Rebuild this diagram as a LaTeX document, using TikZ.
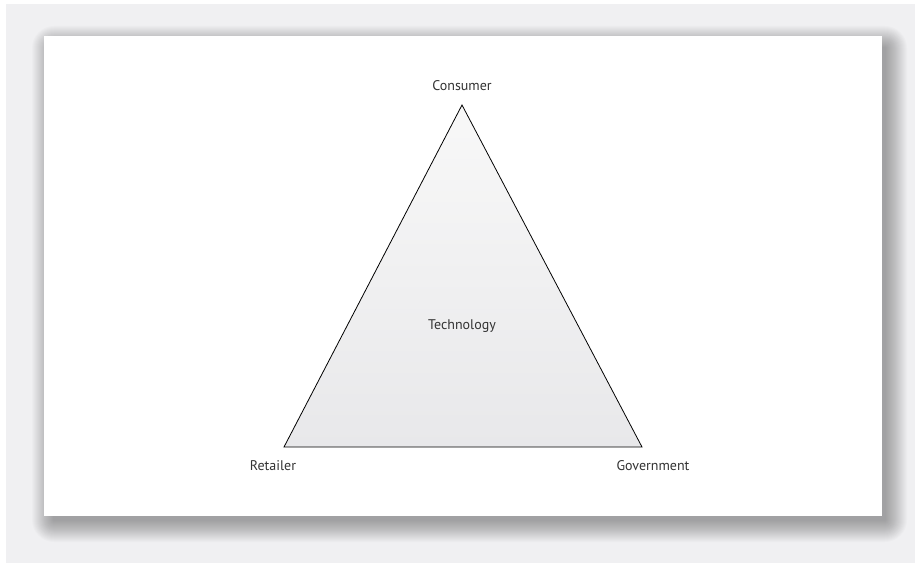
\documentclass[tikz,border=0pt]{standalone}
\usepackage{fontspec}
\setmainfont{PT Sans}
\definecolor{pagegray}{HTML}{F0F0F2}
\definecolor{tritop}{HTML}{F8F8F8}
\definecolor{tribot}{HTML}{E8E8EA}
\definecolor{labelgray}{HTML}{333333}
\tikzset{
  label/.style={font=\fontsize{14}{16}\selectfont, text=labelgray, inner sep=0pt}
}
\begin{document}
\begin{tikzpicture}[x=1pt,y=-1pt]
      \useasboundingbox (0,0) rectangle (915,564);
      \fill[pagegray] (6,4) rectangle (915,563);
      \foreach \r in {1,...,22}
        \fill[black, opacity=0.017, rounded corners=\r pt]
          (54-\r,48-\r) rectangle (885+\r,520+\r);
      \fill[white] (44,36) rectangle (882,516);
      \draw
        (462,105) coordinate (top)
        (284,447) coordinate (left)
        (642,447) coordinate (right);
      \draw[line width=0.8pt, top color=tritop, bottom color=tribot]
        (top) -- (right) -- (left) -- cycle;
      \draw
        (462,86) node[label] (consumer){Consumer}
        (273,466) node[label] (retailer){Retailer}
        (653,466) node[label] (government){Government}
        (462,326) node[label] (technology){Technology};
    \end{tikzpicture}
\end{document}
